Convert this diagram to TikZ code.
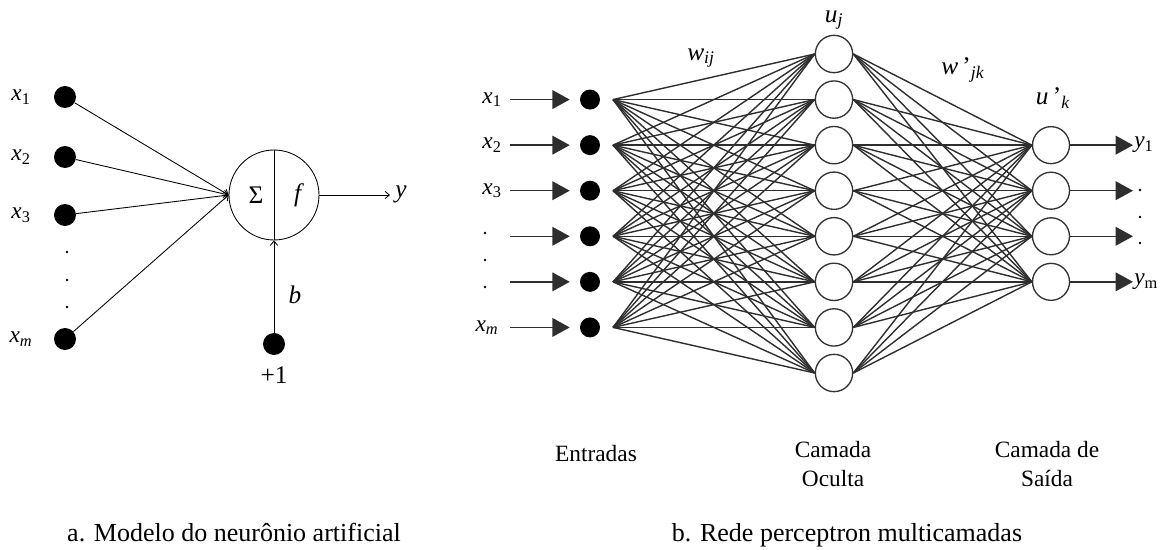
\documentclass[tikz,border=0pt]{standalone}
\usepackage{fontspec}
\setmainfont{Liberation Serif}
\usetikzlibrary{arrows.meta}
\begin{document}
\begin{tikzpicture}[x=0.75pt,y=-0.75pt,
  bigdot/.style={circle,fill=black,inner sep=0pt,minimum size=16.5pt},
  indot/.style={circle,fill=black,inner sep=0pt,minimum size=15pt},
  tinydot/.style={circle,fill=black,inner sep=0pt,minimum size=2.2pt},
  neuron/.style={circle,draw=black!80,line width=1pt,inner sep=0pt,minimum size=28pt},
  lbl/.style={font=\fontsize{17.5}{20}\selectfont,inner sep=0pt},
  captext/.style={font=\fontsize{19.5}{23}\selectfont,inner sep=0pt,anchor=base},
  thinline/.style={line width=0.65pt,draw=black},
  openarr/.style={-{Straight Barb[length=3.2pt,width=5.5pt]}},
  conn/.style={draw=black!82,line width=1.05pt},
  triarr/.style={draw=black!82,line width=1.05pt,-{Triangle[length=13pt,width=14pt]}}
]
\useasboundingbox (0,0) rectangle (1162,549);

% ---------------- a. single neuron ----------------
\node[bigdot] (d1) at (65,97) {};
\node[bigdot] (d2) at (65,157) {};
\node[bigdot] (d3) at (65,215) {};
\node[bigdot] (dm) at (65,339) {};
\node[tinydot] (ld1) at (67,252) {};
\node[tinydot] (ld2) at (67,280) {};
\node[tinydot] (ld3) at (67,307) {};
\node[lbl] (lx1) at (21,97) {\textit{x}\textsubscript{1}};
\node[lbl] (lx2) at (21,157) {\textit{x}\textsubscript{2}};
\node[lbl] (lx3) at (21,215) {\textit{x}\textsubscript{3}};
\node[lbl] (lxm) at (21,339) {\textit{x}\textsubscript{\textit{m}}};

\node[circle,thinline,minimum size=67.5pt,inner sep=0pt] (n) at (274,195) {};
\draw[thinline] (n.north) -- (n.south);
\node[lbl,font=\fontsize{19}{22}\selectfont] (sig) at (256,195) {Σ};
\node[lbl,font=\fontsize{19}{22}\selectfont] (fl) at (299,195) {\textit{f}};
\node[bigdot] (bd) at (274,344) {};
\node[lbl,font=\fontsize{19}{22}\selectfont] (bl) at (295,295) {\textit{b}};
\node[lbl,font=\fontsize{19}{22}\selectfont] (pl) at (274,375) {+1};
\node[lbl,font=\fontsize{19}{22}\selectfont] (yl) at (401,194) {\textit{y}};
\coordinate (ye) at (390,195);

\foreach \d in {d1,d2,d3,dm}
  \draw[thinline,openarr] (\d) -- (n.west);
\draw[thinline,openarr] (bd) -- (n.south);
\draw[thinline,openarr] (n.east) -- (ye);

% ---------------- b. MLP ----------------
\foreach \j in {1,...,8}
  \node[neuron] (h\j) at (834,{54+45.57*(\j-1)}) {};
\foreach \i in {1,...,6} {
  \node[indot] (i\i) at (590,{54+45.57*\i}) {};
  \coordinate (a\i) at (613,{54+45.57*\i});
  \coordinate (s\i) at (510,{54+45.57*\i});
}
\foreach \k in {1,...,4} {
  \node[neuron,minimum size=27.75pt] (o\k) at (1051,{54+45.57*(\k+1)}) {};
  \coordinate (e\k) at (1133,{54+45.57*(\k+1)});
}

\foreach \i in {1,...,6}
  \foreach \j in {1,...,8}
    \draw[conn] (a\i) -- (h\j.west);
\foreach \j in {1,...,8}
  \foreach \k in {1,...,4}
    \draw[conn] (h\j.east) -- (o\k.west);

\foreach \i in {1,...,6}
  \draw[triarr,shorten >=7.5pt] (s\i) -- (i\i);
\foreach \k in {1,...,4}
  \draw[triarr] (o\k) -- (e\k);

\node[lbl] (rx1) at (492,99.6) {\textit{x}\textsubscript{1}};
\node[lbl] (rx2) at (492,145.1) {\textit{x}\textsubscript{2}};
\node[lbl] (rx3) at (492,190.7) {\textit{x}\textsubscript{3}};
\node[lbl] (rxm) at (487,327.4) {\textit{x}\textsubscript{\textit{m}}};
\node[tinydot] (rd1) at (485,233) {};
\node[tinydot] (rd2) at (485,260) {};
\node[tinydot] (rd3) at (485,287) {};

\node[lbl,anchor=west] (ry1) at (1134,145.1) {\textit{y}\textsubscript{1}};
\node[lbl,anchor=west] (rym) at (1134,281.9) {\textit{y}\textsubscript{m}};
\node[tinydot] (od1) at (1140,190) {};
\node[tinydot] (od2) at (1140,217) {};
\node[tinydot] (od3) at (1140,243) {};

\node[lbl,font=\fontsize{19}{22}\selectfont] (uj) at (834,20) {\textit{u}\textsubscript{\textit{j}}};
\node[lbl,font=\fontsize{19}{22}\selectfont] (wij) at (701,58) {\textit{w}\textsubscript{\textit{ij}}};
\node[lbl,font=\fontsize{19}{22}\selectfont] (wjk) at (963,70) {\textit{w}\,’\textsubscript{\textit{jk}}};
\node[lbl,font=\fontsize{19}{22}\selectfont] (uk) at (1053,98) {\textit{u}\,’\textsubscript{\textit{k}}};

\node[lbl,anchor=base] (ent) at (596,461) {Entradas};
\node[lbl,anchor=base] (co1) at (833,457) {Camada};
\node[lbl,anchor=base] (co2) at (833,486) {Oculta};
\node[lbl,anchor=base] (cs1) at (1047,457) {Camada de};
\node[lbl,anchor=base] (cs2) at (1047,486) {Saída};

\node[captext] (capa) at (234,541) {a. Modelo do neurônio artificial};
\node[captext] (capb) at (847,541) {b. Rede perceptron multicamadas};
\end{tikzpicture}
\end{document}
